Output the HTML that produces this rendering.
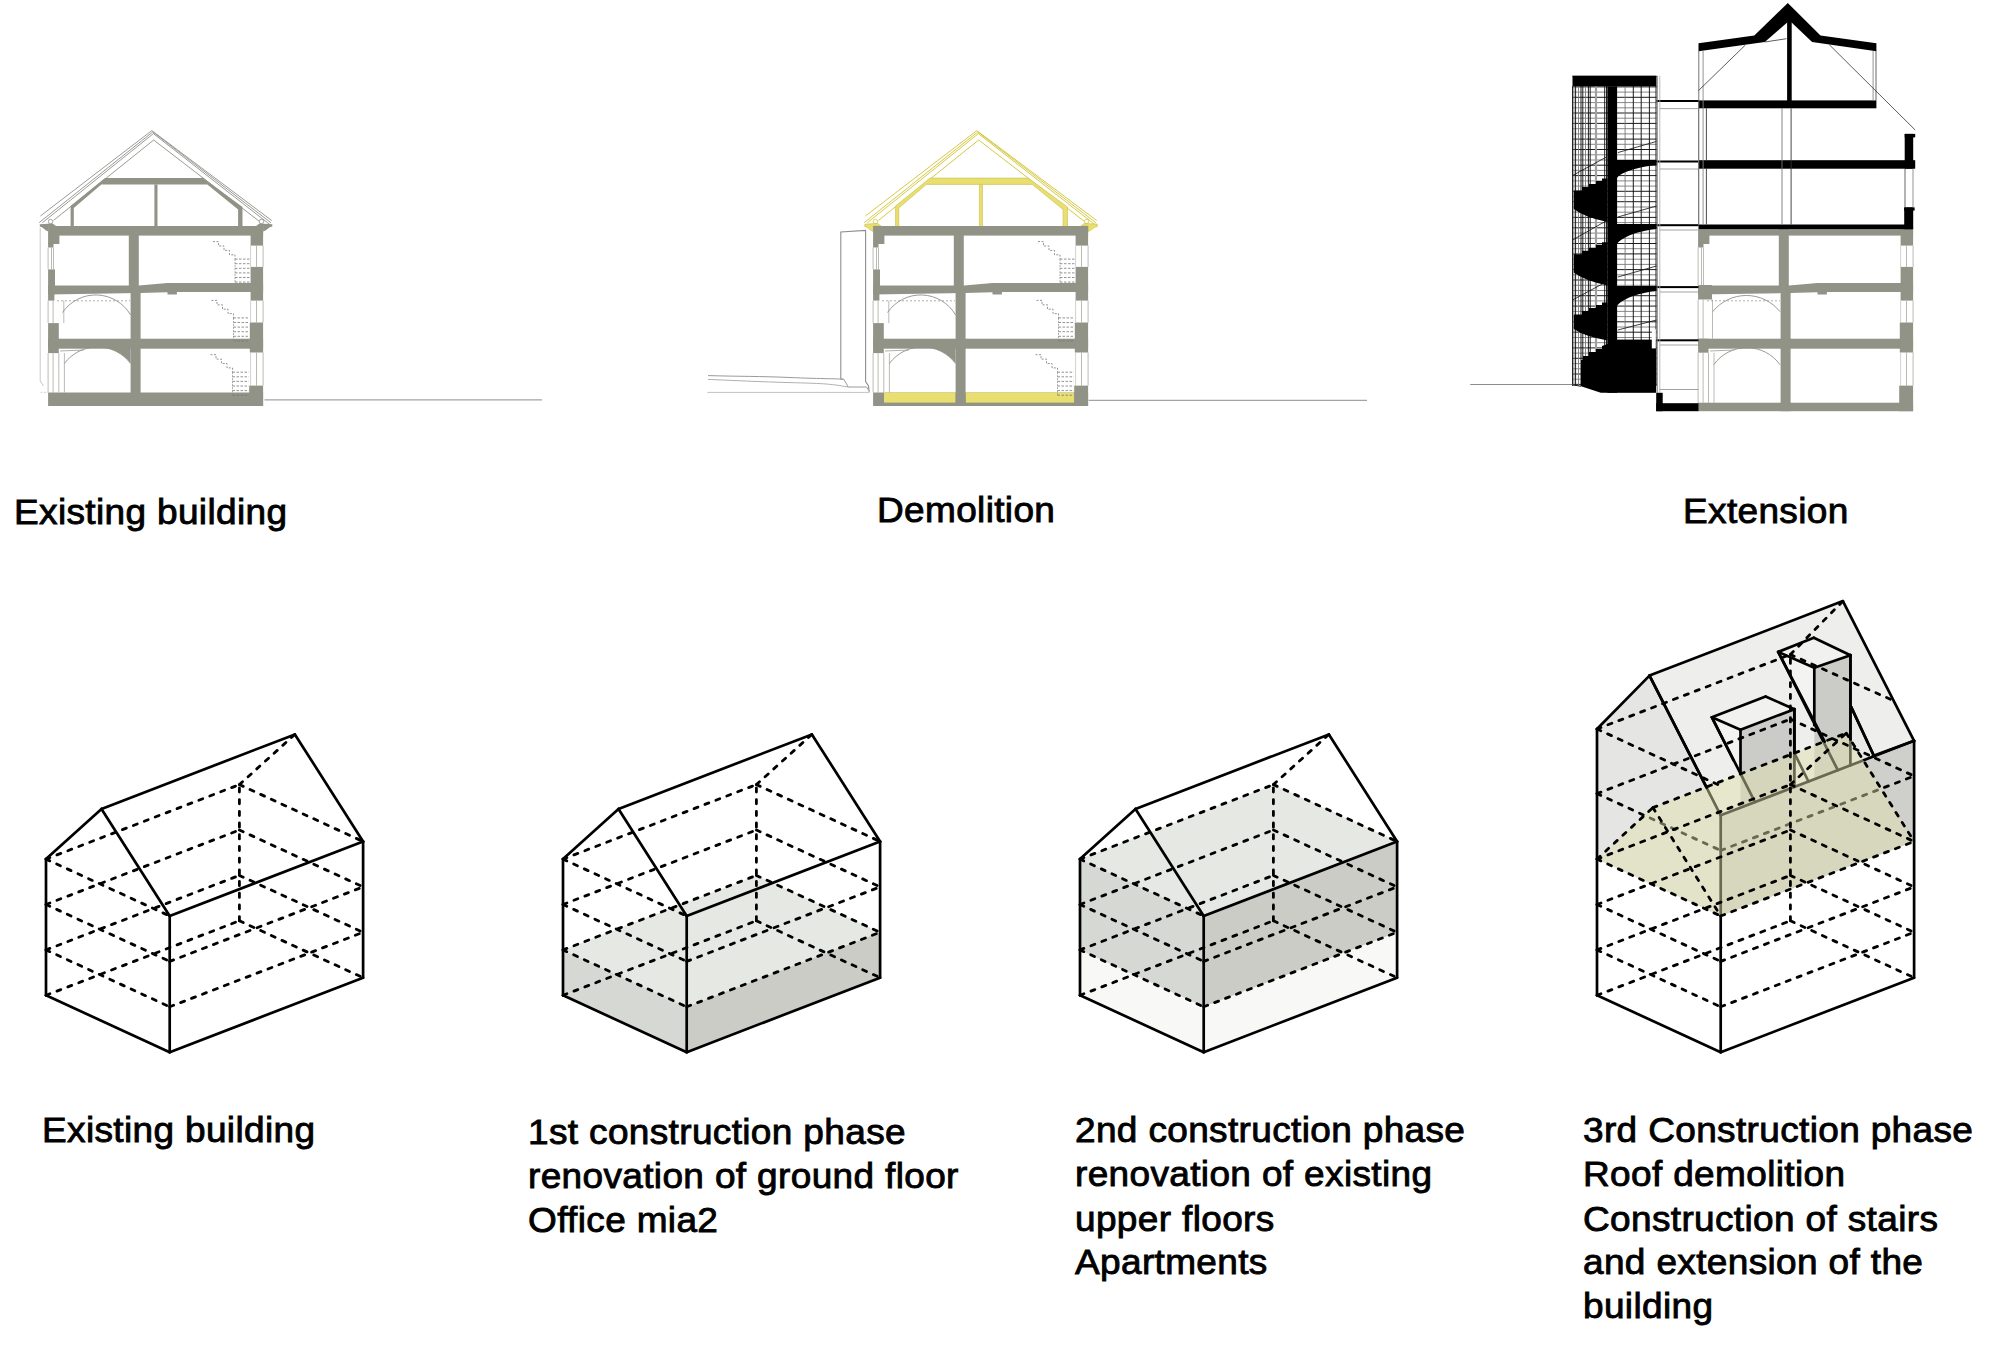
<!DOCTYPE html>
<html><head><meta charset="utf-8">
<style>
html,body{margin:0;padding:0;background:#fff;}
body{width:2000px;height:1371px;overflow:hidden;position:relative;}
svg{position:absolute;left:0;top:0;}
.s{stroke:#000;stroke-width:2.7;fill:none;stroke-linecap:round;stroke-linejoin:round;}
.d{stroke:#000;stroke-width:2.8;fill:none;stroke-dasharray:4.2 7.5;stroke-linecap:round;}
.t{position:absolute;font-family:"Liberation Sans",sans-serif;font-size:37px;color:#000;white-space:nowrap;-webkit-text-stroke:0.9px #000;line-height:46.25px;letter-spacing:0.35px;transform:scaleY(0.95);transform-origin:0 0;}
</style></head><body>
<svg width="2000" height="1371" viewBox="0 0 2000 1371">
<g transform="translate(0.00,0)">
<polyline points="40.4,216.0 151.8,130.6 271.8,220.6" fill="none" stroke="#8e8e8a" stroke-width="0.90"/>
<polyline points="39.2,222.6 152.8,131.9 271.0,222.8" fill="none" stroke="#8e8e8a" stroke-width="0.90"/>
<polyline points="42.4,222.7 153.4,133.6 269.9,224.6" fill="none" stroke="#8e8e8a" stroke-width="0.90"/>
<polyline points="53.5,220.4 153.7,140.0 259.3,221.3" fill="none" stroke="#8e8e8a" stroke-width="0.90"/>
<polygon points="105.0,178.1 203.1,178.1 242.5,207.0 242.5,226.5 238.1,226.5 238.1,209.5 207.3,184.4 101.3,184.4 73.8,208.0 73.8,226.5 70.6,226.5 70.6,206.0" fill="#929387"/>
<polygon points="154.4,184.4 157.5,184.4 157.5,226.5 154.4,226.5" fill="#929387"/>
<polygon points="39.8,224.2 52.5,223.4 56.0,226.0 48.3,226.0 48.3,231.5 46.0,230.5 42.0,227.2 39.8,226.6" fill="#929387"/>
<polygon points="272.3,224.2 259.5,223.4 256.0,226.0 263.1,226.0 263.1,231.5 265.5,230.5 269.8,227.2 272.3,226.6" fill="#929387"/>
<circle cx="50.5" cy="221.5" r="2.2" fill="none" stroke="#8e8e8a" stroke-width="0.8"/>
<circle cx="261.5" cy="221.5" r="2.2" fill="none" stroke="#8e8e8a" stroke-width="0.8"/>
<rect x="48.10" y="226.00" width="215.00" height="9.60" fill="#929387"/>
<rect x="48.10" y="338.70" width="215.00" height="10.00" fill="#929387"/>
<polygon points="48.1,285.6 139.0,285.6 167.5,283.1 263.1,283.1 263.1,291.9 176.9,291.9 176.9,294.4 167.5,294.4 167.5,292.2 140.0,293.0 48.1,294.4" fill="#929387"/>
<rect x="48.10" y="392.50" width="215.00" height="13.50" fill="#929387"/>
<rect x="128.80" y="226.00" width="10.00" height="64.00" fill="#929387"/>
<rect x="130.60" y="288.00" width="10.00" height="118.00" fill="#929387"/>
<rect x="48.10" y="235.00" width="11.30" height="9.00" fill="#929387"/>
<rect x="48.10" y="243.00" width="5.40" height="4.50" fill="#929387"/>
<rect x="48.10" y="269.40" width="6.90" height="20.60" fill="#929387"/>
<rect x="48.10" y="290.00" width="6.30" height="10.60" fill="#929387"/>
<rect x="48.10" y="323.10" width="10.70" height="18.90" fill="#929387"/>
<rect x="48.10" y="342.00" width="10.70" height="11.10" fill="#929387"/>
<polyline points="48.1,247.5 48.1,269.4" fill="none" stroke="#a9aaa2" stroke-width="0.80"/>
<polyline points="51.5,247.5 51.5,269.4" fill="none" stroke="#a9aaa2" stroke-width="0.80"/>
<polyline points="53.5,247.5 53.5,269.4" fill="none" stroke="#a9aaa2" stroke-width="0.80"/>
<polyline points="48.1,300.6 48.1,323.1" fill="none" stroke="#a9aaa2" stroke-width="0.80"/>
<polyline points="53.1,300.6 53.1,323.1" fill="none" stroke="#a9aaa2" stroke-width="0.80"/>
<polyline points="63.8,300.6 63.8,323.1" fill="none" stroke="#a9aaa2" stroke-width="0.80"/>
<polyline points="48.1,353.1 48.1,392.5" fill="none" stroke="#a9aaa2" stroke-width="0.80"/>
<polyline points="53.1,353.1 53.1,392.5" fill="none" stroke="#a9aaa2" stroke-width="0.80"/>
<polyline points="58.8,353.1 58.8,392.5" fill="none" stroke="#a9aaa2" stroke-width="0.80"/>
<polyline points="64.4,353.1 64.4,392.5" fill="none" stroke="#a9aaa2" stroke-width="0.80"/>
<rect x="250.60" y="226.00" width="12.50" height="19.60" fill="#929387"/>
<rect x="250.60" y="266.90" width="12.50" height="33.70" fill="#929387"/>
<rect x="249.80" y="322.50" width="13.30" height="30.00" fill="#929387"/>
<rect x="249.20" y="385.60" width="13.90" height="20.40" fill="#929387"/>
<polyline points="256.5,245.6 256.5,266.9" fill="none" stroke="#a9aaa2" stroke-width="0.80"/>
<polyline points="250.6,245.6 250.6,266.9" fill="none" stroke="#c4c5be" stroke-width="0.80"/>
<polyline points="263.1,245.6 263.1,266.9" fill="none" stroke="#a9aaa2" stroke-width="0.80"/>
<polyline points="256.5,300.6 256.5,322.5" fill="none" stroke="#a9aaa2" stroke-width="0.80"/>
<polyline points="250.6,300.6 250.6,322.5" fill="none" stroke="#c4c5be" stroke-width="0.80"/>
<polyline points="263.1,300.6 263.1,322.5" fill="none" stroke="#a9aaa2" stroke-width="0.80"/>
<polyline points="256.5,352.5 256.5,385.6" fill="none" stroke="#a9aaa2" stroke-width="0.80"/>
<polyline points="250.6,352.5 250.6,385.6" fill="none" stroke="#c4c5be" stroke-width="0.80"/>
<polyline points="263.1,352.5 263.1,385.6" fill="none" stroke="#a9aaa2" stroke-width="0.80"/>
<path d="M62.5 312.5 A40.3 40.3 0 0 1 130.6 315.0" fill="none" stroke="#8e8e8a" stroke-width="0.9"/>
<path d="M64.4 363.4 A41.5 41.5 0 0 1 130.6 363.4" fill="none" stroke="#8e8e8a" stroke-width="0.9"/>
<path d="M97.5 348 L130.6 348 L130.6 363.4 A41.5 41.5 0 0 0 97.5 346.9 Z" fill="#929387"/>
<polyline points="57.0,300.8 130.0,300.8" fill="none" stroke="#9a9b93" stroke-width="0.80" stroke-dasharray="2 2"/>
<polyline points="60.0,351.0 84.0,350.0" fill="none" stroke="#9a9b93" stroke-width="0.80"/>
<polyline points="213.0,241.6 218.5,241.6 218.5,246.0 224.0,246.0 224.0,250.4 229.5,250.4 229.5,254.8 235.0,254.8 235.0,259.2" fill="none" stroke="#777" stroke-width="0.80" stroke-dasharray="2 1.5"/>
<polyline points="235.0,259.1 250.0,259.1" fill="none" stroke="#777" stroke-width="0.80" stroke-dasharray="2.5 1.5"/>
<polyline points="235.0,263.7 250.0,263.7" fill="none" stroke="#777" stroke-width="0.80" stroke-dasharray="2.5 1.5"/>
<polyline points="235.0,268.3 250.0,268.3" fill="none" stroke="#777" stroke-width="0.80" stroke-dasharray="2.5 1.5"/>
<polyline points="235.0,272.9 250.0,272.9" fill="none" stroke="#777" stroke-width="0.80" stroke-dasharray="2.5 1.5"/>
<polyline points="235.0,277.5 250.0,277.5" fill="none" stroke="#777" stroke-width="0.80" stroke-dasharray="2.5 1.5"/>
<polyline points="235.0,282.1 250.0,282.1" fill="none" stroke="#777" stroke-width="0.80" stroke-dasharray="2.5 1.5"/>
<polyline points="235.0,259.1 235.0,283.1" fill="none" stroke="#888" stroke-width="0.70" stroke-dasharray="2 1"/>
<polyline points="211.5,300.4 217.0,300.4 217.0,304.8 222.5,304.8 222.5,309.2 228.0,309.2 228.0,313.6 233.5,313.6 233.5,318.0" fill="none" stroke="#777" stroke-width="0.80" stroke-dasharray="2 1.5"/>
<polyline points="233.5,317.9 249.2,317.9" fill="none" stroke="#777" stroke-width="0.80" stroke-dasharray="2.5 1.5"/>
<polyline points="233.5,322.5 249.2,322.5" fill="none" stroke="#777" stroke-width="0.80" stroke-dasharray="2.5 1.5"/>
<polyline points="233.5,327.1 249.2,327.1" fill="none" stroke="#777" stroke-width="0.80" stroke-dasharray="2.5 1.5"/>
<polyline points="233.5,331.7 249.2,331.7" fill="none" stroke="#777" stroke-width="0.80" stroke-dasharray="2.5 1.5"/>
<polyline points="233.5,336.3 249.2,336.3" fill="none" stroke="#777" stroke-width="0.80" stroke-dasharray="2.5 1.5"/>
<polyline points="233.5,340.9 249.2,340.9" fill="none" stroke="#777" stroke-width="0.80" stroke-dasharray="2.5 1.5"/>
<polyline points="233.5,317.9 233.5,341.9" fill="none" stroke="#888" stroke-width="0.70" stroke-dasharray="2 1"/>
<polyline points="210.5,354.7 216.0,354.7 216.0,359.1 221.5,359.1 221.5,363.5 227.0,363.5 227.0,367.9 232.5,367.9 232.5,372.3" fill="none" stroke="#777" stroke-width="0.80" stroke-dasharray="2 1.5"/>
<polyline points="232.5,372.2 248.8,372.2" fill="none" stroke="#777" stroke-width="0.80" stroke-dasharray="2.5 1.5"/>
<polyline points="232.5,376.8 248.8,376.8" fill="none" stroke="#777" stroke-width="0.80" stroke-dasharray="2.5 1.5"/>
<polyline points="232.5,381.4 248.8,381.4" fill="none" stroke="#777" stroke-width="0.80" stroke-dasharray="2.5 1.5"/>
<polyline points="232.5,386.0 248.8,386.0" fill="none" stroke="#777" stroke-width="0.80" stroke-dasharray="2.5 1.5"/>
<polyline points="232.5,390.6 248.8,390.6" fill="none" stroke="#777" stroke-width="0.80" stroke-dasharray="2.5 1.5"/>
<polyline points="232.5,395.2 248.8,395.2" fill="none" stroke="#777" stroke-width="0.80" stroke-dasharray="2.5 1.5"/>
<polyline points="232.5,372.2 232.5,396.2" fill="none" stroke="#888" stroke-width="0.70" stroke-dasharray="2 1"/>
<polyline points="40.2,228.0 40.2,381.0 43.5,386.0" fill="none" stroke="#c8c8c4" stroke-width="1.00"/>
<polyline points="40.5,392.3 48.0,392.3" fill="none" stroke="#c8c8c4" stroke-width="0.80" stroke-dasharray="2 1.5"/>
</g>
<g transform="translate(825.00,0)">
<polyline points="40.4,216.0 151.8,130.6 271.8,220.6" fill="none" stroke="#d6c943" stroke-width="1.00"/>
<polyline points="39.2,222.6 152.8,131.9 271.0,222.8" fill="none" stroke="#d6c943" stroke-width="1.00"/>
<polyline points="42.4,222.7 153.4,133.6 269.9,224.6" fill="none" stroke="#d6c943" stroke-width="1.00"/>
<polyline points="53.5,220.4 153.7,140.0 259.3,221.3" fill="none" stroke="#d6c943" stroke-width="1.00"/>
<polygon points="105.0,178.1 203.1,178.1 242.5,207.0 242.5,226.5 238.1,226.5 238.1,209.5 207.3,184.4 101.3,184.4 73.8,208.0 73.8,226.5 70.6,226.5 70.6,206.0" fill="#e8df70" stroke="#cfc455" stroke-width="0.7"/>
<polygon points="154.4,184.4 157.5,184.4 157.5,226.5 154.4,226.5" fill="#e8df70" stroke="#cfc455" stroke-width="0.7"/>
<polygon points="39.8,224.2 52.5,223.4 56.0,226.0 48.3,226.0 48.3,231.5 46.0,230.5 42.0,227.2 39.8,226.6" fill="#e8df70" stroke="#cfc455" stroke-width="0.7"/>
<polygon points="272.3,224.2 259.5,223.4 256.0,226.0 263.1,226.0 263.1,231.5 265.5,230.5 269.8,227.2 272.3,226.6" fill="#e8df70" stroke="#cfc455" stroke-width="0.7"/>
<circle cx="50.5" cy="221.5" r="2.2" fill="none" stroke="#d6c943" stroke-width="0.8"/>
<circle cx="261.5" cy="221.5" r="2.2" fill="none" stroke="#d6c943" stroke-width="0.8"/>
<rect x="48.10" y="226.00" width="215.00" height="9.60" fill="#929387"/>
<rect x="48.10" y="338.70" width="215.00" height="10.00" fill="#929387"/>
<polygon points="48.1,285.6 139.0,285.6 167.5,283.1 263.1,283.1 263.1,291.9 176.9,291.9 176.9,294.4 167.5,294.4 167.5,292.2 140.0,293.0 48.1,294.4" fill="#929387"/>
<rect x="48.10" y="392.50" width="215.00" height="13.50" fill="#929387"/>
<rect x="59.00" y="392.50" width="71.60" height="10.10" fill="#e8df70"/>
<rect x="140.60" y="392.50" width="108.60" height="10.10" fill="#e8df70"/>
<rect x="128.80" y="226.00" width="10.00" height="64.00" fill="#929387"/>
<rect x="130.60" y="288.00" width="10.00" height="118.00" fill="#929387"/>
<rect x="48.10" y="235.00" width="11.30" height="9.00" fill="#929387"/>
<rect x="48.10" y="243.00" width="5.40" height="4.50" fill="#929387"/>
<rect x="48.10" y="269.40" width="6.90" height="20.60" fill="#929387"/>
<rect x="48.10" y="290.00" width="6.30" height="10.60" fill="#929387"/>
<rect x="48.10" y="323.10" width="10.70" height="18.90" fill="#929387"/>
<rect x="48.10" y="342.00" width="10.70" height="11.10" fill="#929387"/>
<polyline points="48.1,247.5 48.1,269.4" fill="none" stroke="#a9aaa2" stroke-width="0.80"/>
<polyline points="51.5,247.5 51.5,269.4" fill="none" stroke="#a9aaa2" stroke-width="0.80"/>
<polyline points="53.5,247.5 53.5,269.4" fill="none" stroke="#a9aaa2" stroke-width="0.80"/>
<polyline points="48.1,300.6 48.1,323.1" fill="none" stroke="#a9aaa2" stroke-width="0.80"/>
<polyline points="53.1,300.6 53.1,323.1" fill="none" stroke="#a9aaa2" stroke-width="0.80"/>
<polyline points="63.8,300.6 63.8,323.1" fill="none" stroke="#a9aaa2" stroke-width="0.80"/>
<polyline points="48.1,353.1 48.1,392.5" fill="none" stroke="#a9aaa2" stroke-width="0.80"/>
<polyline points="53.1,353.1 53.1,392.5" fill="none" stroke="#a9aaa2" stroke-width="0.80"/>
<polyline points="58.8,353.1 58.8,392.5" fill="none" stroke="#a9aaa2" stroke-width="0.80"/>
<polyline points="64.4,353.1 64.4,392.5" fill="none" stroke="#a9aaa2" stroke-width="0.80"/>
<rect x="250.60" y="226.00" width="12.50" height="19.60" fill="#929387"/>
<rect x="250.60" y="266.90" width="12.50" height="33.70" fill="#929387"/>
<rect x="249.80" y="322.50" width="13.30" height="30.00" fill="#929387"/>
<rect x="249.20" y="385.60" width="13.90" height="20.40" fill="#929387"/>
<polyline points="256.5,245.6 256.5,266.9" fill="none" stroke="#a9aaa2" stroke-width="0.80"/>
<polyline points="250.6,245.6 250.6,266.9" fill="none" stroke="#c4c5be" stroke-width="0.80"/>
<polyline points="263.1,245.6 263.1,266.9" fill="none" stroke="#a9aaa2" stroke-width="0.80"/>
<polyline points="256.5,300.6 256.5,322.5" fill="none" stroke="#a9aaa2" stroke-width="0.80"/>
<polyline points="250.6,300.6 250.6,322.5" fill="none" stroke="#c4c5be" stroke-width="0.80"/>
<polyline points="263.1,300.6 263.1,322.5" fill="none" stroke="#a9aaa2" stroke-width="0.80"/>
<polyline points="256.5,352.5 256.5,385.6" fill="none" stroke="#a9aaa2" stroke-width="0.80"/>
<polyline points="250.6,352.5 250.6,385.6" fill="none" stroke="#c4c5be" stroke-width="0.80"/>
<polyline points="263.1,352.5 263.1,385.6" fill="none" stroke="#a9aaa2" stroke-width="0.80"/>
<path d="M62.5 312.5 A40.3 40.3 0 0 1 130.6 315.0" fill="none" stroke="#8e8e8a" stroke-width="0.9"/>
<path d="M64.4 363.4 A41.5 41.5 0 0 1 130.6 363.4" fill="none" stroke="#8e8e8a" stroke-width="0.9"/>
<path d="M97.5 348 L130.6 348 L130.6 363.4 A41.5 41.5 0 0 0 97.5 346.9 Z" fill="#929387"/>
<polyline points="57.0,300.8 130.0,300.8" fill="none" stroke="#9a9b93" stroke-width="0.80" stroke-dasharray="2 2"/>
<polyline points="60.0,351.0 84.0,350.0" fill="none" stroke="#9a9b93" stroke-width="0.80"/>
<polyline points="213.0,241.6 218.5,241.6 218.5,246.0 224.0,246.0 224.0,250.4 229.5,250.4 229.5,254.8 235.0,254.8 235.0,259.2" fill="none" stroke="#777" stroke-width="0.80" stroke-dasharray="2 1.5"/>
<polyline points="235.0,259.1 250.0,259.1" fill="none" stroke="#777" stroke-width="0.80" stroke-dasharray="2.5 1.5"/>
<polyline points="235.0,263.7 250.0,263.7" fill="none" stroke="#777" stroke-width="0.80" stroke-dasharray="2.5 1.5"/>
<polyline points="235.0,268.3 250.0,268.3" fill="none" stroke="#777" stroke-width="0.80" stroke-dasharray="2.5 1.5"/>
<polyline points="235.0,272.9 250.0,272.9" fill="none" stroke="#777" stroke-width="0.80" stroke-dasharray="2.5 1.5"/>
<polyline points="235.0,277.5 250.0,277.5" fill="none" stroke="#777" stroke-width="0.80" stroke-dasharray="2.5 1.5"/>
<polyline points="235.0,282.1 250.0,282.1" fill="none" stroke="#777" stroke-width="0.80" stroke-dasharray="2.5 1.5"/>
<polyline points="235.0,259.1 235.0,283.1" fill="none" stroke="#888" stroke-width="0.70" stroke-dasharray="2 1"/>
<polyline points="211.5,300.4 217.0,300.4 217.0,304.8 222.5,304.8 222.5,309.2 228.0,309.2 228.0,313.6 233.5,313.6 233.5,318.0" fill="none" stroke="#777" stroke-width="0.80" stroke-dasharray="2 1.5"/>
<polyline points="233.5,317.9 249.2,317.9" fill="none" stroke="#777" stroke-width="0.80" stroke-dasharray="2.5 1.5"/>
<polyline points="233.5,322.5 249.2,322.5" fill="none" stroke="#777" stroke-width="0.80" stroke-dasharray="2.5 1.5"/>
<polyline points="233.5,327.1 249.2,327.1" fill="none" stroke="#777" stroke-width="0.80" stroke-dasharray="2.5 1.5"/>
<polyline points="233.5,331.7 249.2,331.7" fill="none" stroke="#777" stroke-width="0.80" stroke-dasharray="2.5 1.5"/>
<polyline points="233.5,336.3 249.2,336.3" fill="none" stroke="#777" stroke-width="0.80" stroke-dasharray="2.5 1.5"/>
<polyline points="233.5,340.9 249.2,340.9" fill="none" stroke="#777" stroke-width="0.80" stroke-dasharray="2.5 1.5"/>
<polyline points="233.5,317.9 233.5,341.9" fill="none" stroke="#888" stroke-width="0.70" stroke-dasharray="2 1"/>
<polyline points="210.5,354.7 216.0,354.7 216.0,359.1 221.5,359.1 221.5,363.5 227.0,363.5 227.0,367.9 232.5,367.9 232.5,372.3" fill="none" stroke="#777" stroke-width="0.80" stroke-dasharray="2 1.5"/>
<polyline points="232.5,372.2 248.8,372.2" fill="none" stroke="#777" stroke-width="0.80" stroke-dasharray="2.5 1.5"/>
<polyline points="232.5,376.8 248.8,376.8" fill="none" stroke="#777" stroke-width="0.80" stroke-dasharray="2.5 1.5"/>
<polyline points="232.5,381.4 248.8,381.4" fill="none" stroke="#777" stroke-width="0.80" stroke-dasharray="2.5 1.5"/>
<polyline points="232.5,386.0 248.8,386.0" fill="none" stroke="#777" stroke-width="0.80" stroke-dasharray="2.5 1.5"/>
<polyline points="232.5,390.6 248.8,390.6" fill="none" stroke="#777" stroke-width="0.80" stroke-dasharray="2.5 1.5"/>
<polyline points="232.5,395.2 248.8,395.2" fill="none" stroke="#777" stroke-width="0.80" stroke-dasharray="2.5 1.5"/>
<polyline points="232.5,372.2 232.5,396.2" fill="none" stroke="#888" stroke-width="0.70" stroke-dasharray="2 1"/>
</g>
<g transform="translate(1650.00,0)">
<rect x="48.10" y="229.20" width="215.00" height="6.40" fill="#929387"/>
<rect x="48.10" y="338.70" width="215.00" height="10.00" fill="#929387"/>
<polygon points="48.1,285.6 139.0,285.6 167.5,283.1 263.1,283.1 263.1,291.9 176.9,291.9 176.9,294.4 167.5,294.4 167.5,292.2 140.0,293.0 48.1,294.4" fill="#929387"/>
<rect x="48.10" y="402.70" width="215.00" height="8.50" fill="#929387"/>
<rect x="128.80" y="226.00" width="10.00" height="64.00" fill="#929387"/>
<rect x="130.60" y="288.00" width="10.00" height="123.20" fill="#929387"/>
<rect x="48.10" y="235.00" width="11.30" height="9.00" fill="#929387"/>
<rect x="48.10" y="243.00" width="5.40" height="4.50" fill="#929387"/>
<rect x="48.10" y="285.00" width="13.90" height="14.50" fill="#929387"/>
<rect x="48.10" y="338.70" width="10.40" height="14.00" fill="#929387"/>
<polyline points="48.1,247.5 48.1,285.0" fill="none" stroke="#a9aaa2" stroke-width="0.80"/>
<polyline points="51.5,247.5 51.5,285.0" fill="none" stroke="#a9aaa2" stroke-width="0.80"/>
<polyline points="53.5,247.5 53.5,285.0" fill="none" stroke="#a9aaa2" stroke-width="0.80"/>
<polyline points="48.1,299.5 48.1,338.7" fill="none" stroke="#a9aaa2" stroke-width="0.80"/>
<polyline points="53.1,299.5 53.1,338.7" fill="none" stroke="#a9aaa2" stroke-width="0.80"/>
<polyline points="62.5,299.5 62.5,338.7" fill="none" stroke="#a9aaa2" stroke-width="0.80"/>
<polyline points="48.1,352.7 48.1,402.7" fill="none" stroke="#a9aaa2" stroke-width="0.80"/>
<polyline points="53.1,352.7 53.1,402.7" fill="none" stroke="#a9aaa2" stroke-width="0.80"/>
<polyline points="58.5,352.7 58.5,402.7" fill="none" stroke="#a9aaa2" stroke-width="0.80"/>
<polyline points="64.0,352.7 64.0,402.7" fill="none" stroke="#a9aaa2" stroke-width="0.80"/>
<rect x="250.60" y="226.00" width="12.50" height="19.60" fill="#929387"/>
<rect x="250.60" y="266.90" width="12.50" height="33.70" fill="#929387"/>
<rect x="249.80" y="322.50" width="13.30" height="30.00" fill="#929387"/>
<rect x="249.20" y="385.60" width="13.90" height="25.60" fill="#929387"/>
<polyline points="256.5,245.6 256.5,266.9" fill="none" stroke="#a9aaa2" stroke-width="0.80"/>
<polyline points="250.6,245.6 250.6,266.9" fill="none" stroke="#c4c5be" stroke-width="0.80"/>
<polyline points="263.1,245.6 263.1,266.9" fill="none" stroke="#a9aaa2" stroke-width="0.80"/>
<polyline points="256.5,300.6 256.5,322.5" fill="none" stroke="#a9aaa2" stroke-width="0.80"/>
<polyline points="250.6,300.6 250.6,322.5" fill="none" stroke="#c4c5be" stroke-width="0.80"/>
<polyline points="263.1,300.6 263.1,322.5" fill="none" stroke="#a9aaa2" stroke-width="0.80"/>
<polyline points="256.5,352.5 256.5,385.6" fill="none" stroke="#a9aaa2" stroke-width="0.80"/>
<polyline points="250.6,352.5 250.6,385.6" fill="none" stroke="#c4c5be" stroke-width="0.80"/>
<polyline points="263.1,352.5 263.1,385.6" fill="none" stroke="#a9aaa2" stroke-width="0.80"/>
<path d="M62.7 311.7 A43.0 43.0 0 0 1 130.0 311.7" fill="none" stroke="#8e8e8a" stroke-width="0.9"/>
<path d="M63.7 364.7 A40.8 40.8 0 0 1 130.0 364.7" fill="none" stroke="#8e8e8a" stroke-width="0.9"/>
<polyline points="57.0,300.8 130.0,300.8" fill="none" stroke="#9a9b93" stroke-width="0.80" stroke-dasharray="2 2"/>
<polyline points="60.0,351.0 84.0,350.0" fill="none" stroke="#9a9b93" stroke-width="0.80"/>
</g>
<g><polygon points="1698.5,43.3 1754.3,35.4 1787.8,3.0 1820.5,35.4 1876.4,43.3 1876.4,51.2 1812.1,42.0 1789.5,20.5 1764.8,42.0 1698.5,51.2" fill="#000"/>
<rect x="1787.10" y="20.00" width="4.60" height="81.00" fill="#000"/>
<rect x="1698.50" y="100.40" width="177.90" height="7.90" fill="#000"/>
<rect x="1698.50" y="160.20" width="216.70" height="8.50" fill="#000"/>
<rect x="1904.70" y="133.90" width="8.50" height="34.80" fill="#000"/>
<rect x="1904.70" y="133.90" width="10.50" height="3.50" fill="#000"/>
<rect x="1698.50" y="224.50" width="214.30" height="4.70" fill="#000"/>
<rect x="1904.20" y="207.40" width="9.00" height="21.80" fill="#000"/>
<rect x="1904.20" y="207.40" width="10.40" height="3.20" fill="#000"/>
<polyline points="1698.8,51.0 1698.8,224.5" fill="none" stroke="#666" stroke-width="0.90"/>
<polyline points="1703.1,51.0 1703.1,224.5" fill="none" stroke="#888" stroke-width="0.90"/>
<polyline points="1706.4,108.3 1706.4,160.2" fill="none" stroke="#333" stroke-width="0.90"/>
<polyline points="1706.4,168.7 1706.4,224.5" fill="none" stroke="#333" stroke-width="0.90"/>
<polyline points="1782.0,108.3 1782.0,224.5" fill="none" stroke="#777" stroke-width="0.90"/>
<polyline points="1791.1,108.3 1791.1,224.5" fill="none" stroke="#333" stroke-width="0.90"/>
<polyline points="1873.1,51.0 1873.1,100.4" fill="none" stroke="#888" stroke-width="0.90"/>
<polyline points="1876.0,51.0 1876.0,100.4" fill="none" stroke="#555" stroke-width="0.90"/>
<polyline points="1905.0,168.7 1905.0,207.4" fill="none" stroke="#555" stroke-width="0.90"/>
<polyline points="1913.0,168.7 1913.0,207.4" fill="none" stroke="#888" stroke-width="0.90"/>
<polyline points="1698.5,90.6 1745.1,45.3" fill="none" stroke="#333" stroke-width="0.80"/>
<polyline points="1764.8,42.0 1786.5,38.7" fill="none" stroke="#333" stroke-width="0.80"/>
<polyline points="1829.2,44.6 1915.2,130.0" fill="none" stroke="#333" stroke-width="0.80"/>
<rect x="1656.50" y="100.00" width="42.00" height="2.00" fill="#000"/>
<polyline points="1659.8,108.6 1698.5,108.6" fill="none" stroke="#999" stroke-width="0.90"/>
<rect x="1656.50" y="160.50" width="42.00" height="2.00" fill="#000"/>
<polyline points="1659.8,169.0 1698.5,169.0" fill="none" stroke="#999" stroke-width="0.90"/>
<rect x="1656.50" y="224.20" width="42.00" height="2.00" fill="#000"/>
<polyline points="1659.8,230.0 1698.5,230.0" fill="none" stroke="#999" stroke-width="0.90"/>
<rect x="1656.50" y="286.10" width="42.00" height="2.00" fill="#000"/>
<polyline points="1659.8,292.0 1698.5,292.0" fill="none" stroke="#999" stroke-width="0.90"/>
<rect x="1656.50" y="339.30" width="42.00" height="2.00" fill="#000"/>
<polyline points="1659.8,345.0 1698.5,345.0" fill="none" stroke="#999" stroke-width="0.90"/>
<polyline points="1657.4,75.8 1657.4,392.8" fill="none" stroke="#777" stroke-width="0.80"/>
<polyline points="1659.8,75.8 1659.8,392.8" fill="none" stroke="#aaa" stroke-width="0.80"/>
<polyline points="1698.5,108.0 1698.5,224.0" fill="none" stroke="#777" stroke-width="0.90"/>
<polyline points="1659.8,389.5 1698.5,389.5" fill="none" stroke="#999" stroke-width="0.90"/>
<rect x="1656.20" y="392.80" width="6.50" height="18.40" fill="#000"/>
<rect x="1656.20" y="403.20" width="42.30" height="8.00" fill="#000"/>
<polyline points="1572.5,86.9 1656.5,86.9" fill="none" stroke="#111" stroke-width="0.95"/>
<polyline points="1572.5,92.1 1656.5,92.1" fill="none" stroke="#6a6a6a" stroke-width="0.80"/>
<polyline points="1572.5,97.3 1656.5,97.3" fill="none" stroke="#111" stroke-width="0.95"/>
<polyline points="1572.5,102.6 1656.5,102.6" fill="none" stroke="#6a6a6a" stroke-width="0.80"/>
<polyline points="1572.5,107.8 1656.5,107.8" fill="none" stroke="#6a6a6a" stroke-width="0.80"/>
<polyline points="1572.5,113.0 1656.5,113.0" fill="none" stroke="#111" stroke-width="0.95"/>
<polyline points="1572.5,118.2 1656.5,118.2" fill="none" stroke="#6a6a6a" stroke-width="0.80"/>
<polyline points="1572.5,123.4 1656.5,123.4" fill="none" stroke="#111" stroke-width="0.95"/>
<polyline points="1572.5,128.7 1656.5,128.7" fill="none" stroke="#6a6a6a" stroke-width="0.80"/>
<polyline points="1572.5,133.9 1656.5,133.9" fill="none" stroke="#6a6a6a" stroke-width="0.80"/>
<polyline points="1572.5,139.1 1656.5,139.1" fill="none" stroke="#111" stroke-width="0.95"/>
<polyline points="1572.5,144.3 1656.5,144.3" fill="none" stroke="#6a6a6a" stroke-width="0.80"/>
<polyline points="1572.5,149.5 1656.5,149.5" fill="none" stroke="#111" stroke-width="0.95"/>
<polyline points="1572.5,154.8 1656.5,154.8" fill="none" stroke="#6a6a6a" stroke-width="0.80"/>
<polyline points="1572.5,160.0 1656.5,160.0" fill="none" stroke="#6a6a6a" stroke-width="0.80"/>
<polyline points="1572.5,165.2 1656.5,165.2" fill="none" stroke="#111" stroke-width="0.95"/>
<polyline points="1572.5,170.4 1656.5,170.4" fill="none" stroke="#6a6a6a" stroke-width="0.80"/>
<polyline points="1572.5,175.6 1656.5,175.6" fill="none" stroke="#111" stroke-width="0.95"/>
<polyline points="1572.5,180.9 1656.5,180.9" fill="none" stroke="#6a6a6a" stroke-width="0.80"/>
<polyline points="1572.5,186.1 1656.5,186.1" fill="none" stroke="#6a6a6a" stroke-width="0.80"/>
<polyline points="1572.5,191.3 1656.5,191.3" fill="none" stroke="#111" stroke-width="0.95"/>
<polyline points="1572.5,196.5 1656.5,196.5" fill="none" stroke="#6a6a6a" stroke-width="0.80"/>
<polyline points="1572.5,201.7 1656.5,201.7" fill="none" stroke="#111" stroke-width="0.95"/>
<polyline points="1572.5,207.0 1656.5,207.0" fill="none" stroke="#6a6a6a" stroke-width="0.80"/>
<polyline points="1572.5,212.2 1656.5,212.2" fill="none" stroke="#6a6a6a" stroke-width="0.80"/>
<polyline points="1572.5,217.4 1656.5,217.4" fill="none" stroke="#111" stroke-width="0.95"/>
<polyline points="1572.5,222.6 1656.5,222.6" fill="none" stroke="#6a6a6a" stroke-width="0.80"/>
<polyline points="1572.5,227.8 1656.5,227.8" fill="none" stroke="#111" stroke-width="0.95"/>
<polyline points="1572.5,233.1 1656.5,233.1" fill="none" stroke="#6a6a6a" stroke-width="0.80"/>
<polyline points="1572.5,238.3 1656.5,238.3" fill="none" stroke="#6a6a6a" stroke-width="0.80"/>
<polyline points="1572.5,243.5 1656.5,243.5" fill="none" stroke="#111" stroke-width="0.95"/>
<polyline points="1572.5,248.7 1656.5,248.7" fill="none" stroke="#6a6a6a" stroke-width="0.80"/>
<polyline points="1572.5,253.9 1656.5,253.9" fill="none" stroke="#111" stroke-width="0.95"/>
<polyline points="1572.5,259.2 1656.5,259.2" fill="none" stroke="#6a6a6a" stroke-width="0.80"/>
<polyline points="1572.5,264.4 1656.5,264.4" fill="none" stroke="#6a6a6a" stroke-width="0.80"/>
<polyline points="1572.5,269.6 1656.5,269.6" fill="none" stroke="#111" stroke-width="0.95"/>
<polyline points="1572.5,274.8 1656.5,274.8" fill="none" stroke="#6a6a6a" stroke-width="0.80"/>
<polyline points="1572.5,280.0 1656.5,280.0" fill="none" stroke="#111" stroke-width="0.95"/>
<polyline points="1572.5,285.3 1656.5,285.3" fill="none" stroke="#6a6a6a" stroke-width="0.80"/>
<polyline points="1572.5,290.5 1656.5,290.5" fill="none" stroke="#6a6a6a" stroke-width="0.80"/>
<polyline points="1572.5,295.7 1656.5,295.7" fill="none" stroke="#111" stroke-width="0.95"/>
<polyline points="1572.5,300.9 1656.5,300.9" fill="none" stroke="#6a6a6a" stroke-width="0.80"/>
<polyline points="1572.5,306.1 1656.5,306.1" fill="none" stroke="#111" stroke-width="0.95"/>
<polyline points="1572.5,311.4 1656.5,311.4" fill="none" stroke="#6a6a6a" stroke-width="0.80"/>
<polyline points="1572.5,316.6 1656.5,316.6" fill="none" stroke="#6a6a6a" stroke-width="0.80"/>
<polyline points="1572.5,321.8 1656.5,321.8" fill="none" stroke="#111" stroke-width="0.95"/>
<polyline points="1572.5,327.0 1656.5,327.0" fill="none" stroke="#6a6a6a" stroke-width="0.80"/>
<polyline points="1572.5,332.2 1656.5,332.2" fill="none" stroke="#111" stroke-width="0.95"/>
<polyline points="1572.5,337.5 1656.5,337.5" fill="none" stroke="#6a6a6a" stroke-width="0.80"/>
<polyline points="1572.5,342.7 1656.5,342.7" fill="none" stroke="#6a6a6a" stroke-width="0.80"/>
<polyline points="1572.5,347.9 1656.5,347.9" fill="none" stroke="#111" stroke-width="0.95"/>
<polyline points="1572.5,353.1 1656.5,353.1" fill="none" stroke="#6a6a6a" stroke-width="0.80"/>
<polyline points="1572.5,358.3 1656.5,358.3" fill="none" stroke="#111" stroke-width="0.95"/>
<polyline points="1572.5,363.6 1656.5,363.6" fill="none" stroke="#6a6a6a" stroke-width="0.80"/>
<polyline points="1572.5,368.8 1656.5,368.8" fill="none" stroke="#6a6a6a" stroke-width="0.80"/>
<polyline points="1572.5,374.0 1656.5,374.0" fill="none" stroke="#111" stroke-width="0.95"/>
<polyline points="1572.5,379.2 1656.5,379.2" fill="none" stroke="#6a6a6a" stroke-width="0.80"/>
<polyline points="1572.5,384.4 1656.5,384.4" fill="none" stroke="#111" stroke-width="0.95"/>
<polyline points="1574.0,86.0 1574.0,386.0" fill="none" stroke="#777" stroke-width="0.90"/>
<polyline points="1578.5,86.0 1578.5,386.0" fill="none" stroke="#777" stroke-width="0.90"/>
<polyline points="1585.5,86.0 1585.5,386.0" fill="none" stroke="#777" stroke-width="0.90"/>
<polyline points="1625.1,86.0 1625.1,386.0" fill="none" stroke="#777" stroke-width="0.90"/>
<polyline points="1596.0,86.0 1596.0,386.0" fill="none" stroke="#a0a0a0" stroke-width="2.20"/>
<polyline points="1572.6,86.0 1572.6,386.0" fill="none" stroke="#111" stroke-width="0.95"/>
<polyline points="1575.6,86.0 1575.6,386.0" fill="none" stroke="#111" stroke-width="0.95"/>
<polyline points="1581.0,86.0 1581.0,386.0" fill="none" stroke="#111" stroke-width="0.95"/>
<polyline points="1582.8,86.0 1582.8,386.0" fill="none" stroke="#111" stroke-width="0.95"/>
<polyline points="1588.4,86.0 1588.4,386.0" fill="none" stroke="#111" stroke-width="0.95"/>
<polyline points="1590.2,86.0 1590.2,386.0" fill="none" stroke="#111" stroke-width="0.95"/>
<polyline points="1604.7,86.0 1604.7,386.0" fill="none" stroke="#111" stroke-width="0.95"/>
<polyline points="1606.5,86.0 1606.5,386.0" fill="none" stroke="#111" stroke-width="0.95"/>
<polyline points="1633.3,86.0 1633.3,386.0" fill="none" stroke="#111" stroke-width="0.95"/>
<polyline points="1641.2,86.0 1641.2,386.0" fill="none" stroke="#111" stroke-width="0.95"/>
<polyline points="1649.4,86.0 1649.4,386.0" fill="none" stroke="#111" stroke-width="0.95"/>
<polyline points="1656.0,86.0 1656.0,386.0" fill="none" stroke="#111" stroke-width="0.95"/>
<rect x="1572.50" y="75.80" width="84.00" height="10.50" fill="#000"/>
<rect x="1607.30" y="86.30" width="9.80" height="306.50" fill="#000"/>
<path d="M1617 160.0 L1656.5 160.0 L1656.5 165.0 Q1630 168.0 1618.5 176.0 L1617 178.0 Z" fill="#000"/>
<path d="M1607.5 176.4 L1607.5 178.4 L1602.0 178.4 L1602.0 180.9 L1596.0 180.9 L1596.0 183.9 L1589.0 183.9 L1589.0 186.9 L1582.0 186.9 L1582.0 190.4 L1575.0 190.4 L1573.8 190.4 L1573.8 209.0 Q1585 217.6 1607.5 221.9 Z" fill="#000"/>
<path d="M1617 224.0 L1656.5 224.0 L1656.5 229.0 Q1630 232.0 1618.5 242.0 L1617 244.0 Z" fill="#000"/>
<path d="M1607.5 240.2 L1607.5 242.2 L1602.0 242.2 L1602.0 244.8 L1596.0 244.8 L1596.0 247.8 L1589.0 247.8 L1589.0 250.8 L1582.0 250.8 L1582.0 254.2 L1575.0 254.2 L1573.8 254.2 L1573.8 272.6 Q1585 281.1 1607.5 285.4 Z" fill="#000"/>
<path d="M1617 286.0 L1656.5 286.0 L1656.5 291.0 Q1630 294.0 1618.5 304.0 L1617 306.0 Z" fill="#000"/>
<path d="M1607.5 300.5 L1607.5 302.5 L1602.0 302.5 L1602.0 305.0 L1596.0 305.0 L1596.0 308.0 L1589.0 308.0 L1589.0 311.0 L1582.0 311.0 L1582.0 314.5 L1575.0 314.5 L1573.8 314.5 L1573.8 329.1 Q1585 336.7 1607.5 340.5 Z" fill="#000"/>
<rect x="1617.00" y="339.60" width="39.20" height="53.20" fill="#000"/>
<rect x="1651.80" y="329.40" width="4.00" height="19.00" fill="#fff"/>
<path d="M1607.5 344 L1602 346 L1602 349 L1596 349 L1596 352 L1589 352 L1589 356 L1583 356 L1583 360 L1581 360 L1581 386.3 L1600.8 392.8 L1617 392.8 L1617 344 Z" fill="#000"/>
<rect x="1572.50" y="75.80" width="84.00" height="1.00" fill="#000"/>
<polyline points="1572.5,86.0 1572.5,384.8 1581.0,386.3" fill="none" stroke="#222" stroke-width="1.00"/>
<polyline points="1656.5,141.4 1617.8,152.6" fill="none" stroke="#111" stroke-width="0.80"/>
<polyline points="1606.0,157.2 1572.5,175.6" fill="none" stroke="#111" stroke-width="0.80"/>
<polyline points="1656.5,206.0 1617.8,217.0" fill="none" stroke="#111" stroke-width="0.80"/>
<polyline points="1606.0,221.0 1572.5,240.0" fill="none" stroke="#111" stroke-width="0.80"/>
<polyline points="1656.5,266.0 1617.8,277.0" fill="none" stroke="#111" stroke-width="0.80"/>
<polyline points="1606.0,282.0 1572.5,300.0" fill="none" stroke="#111" stroke-width="0.80"/>
<polyline points="1656.5,320.0 1617.8,330.0" fill="none" stroke="#111" stroke-width="0.80"/>
<polyline points="1470.2,384.5 1572.3,384.5" fill="none" stroke="#8c8c8c" stroke-width="1.20"/></g>
<polyline points="264.5,399.8 542.0,399.8" fill="none" stroke="#a3a3a3" stroke-width="1.20"/>
<polyline points="1088.5,400.3 1367.0,400.3" fill="none" stroke="#a3a3a3" stroke-width="1.20"/>
<polyline points="840.8,379.2 840.8,231.9 865.6,230.4 865.6,381.5 868.5,386.0 869.2,392.4" fill="none" stroke="#8e8e8e" stroke-width="1.10"/>
<polyline points="840.8,379.2 843.6,379.2 846.6,384.0 848.0,387.0 866.5,387.0 868.5,390.0" fill="none" stroke="#9a9a9a" stroke-width="1.00"/>
<path d="M708 375.6 C740 376.5 760 376.2 790 377.5 S830 378.5 843.6 379.2" fill="none" stroke="#9a9a9a" stroke-width="1.0"/>
<path d="M708 379.4 C735 380.5 760 381.8 790 382.6 S830 383.6 848 387" fill="none" stroke="#b0b0b0" stroke-width="1.0"/>
<polyline points="707.3,392.4 869.2,392.4" fill="none" stroke="#c2c2c2" stroke-width="1.00"/>
<g>
<line x1="46.0" y1="995.3" x2="239.4" y2="920.8" class="d"/>
<line x1="239.4" y1="920.8" x2="363.1" y2="977.7" class="d"/>
<line x1="46.0" y1="949.9" x2="239.4" y2="875.4" class="d"/>
<line x1="239.4" y1="875.4" x2="363.1" y2="932.3" class="d"/>
<line x1="46.0" y1="949.9" x2="169.7" y2="1006.8" class="d"/>
<line x1="169.7" y1="1006.8" x2="363.1" y2="932.3" class="d"/>
<line x1="46.0" y1="904.5" x2="239.4" y2="830.0" class="d"/>
<line x1="239.4" y1="830.0" x2="363.1" y2="886.9" class="d"/>
<line x1="46.0" y1="904.5" x2="169.7" y2="961.4" class="d"/>
<line x1="169.7" y1="961.4" x2="363.1" y2="886.9" class="d"/>
<line x1="46.0" y1="859.1" x2="239.4" y2="784.6" class="d"/>
<line x1="239.4" y1="784.6" x2="363.1" y2="841.5" class="d"/>
<line x1="46.0" y1="859.1" x2="169.7" y2="916.0" class="d"/>
<line x1="239.4" y1="920.8" x2="239.4" y2="784.6" class="d"/>
<line x1="239.4" y1="784.6" x2="294.9" y2="734.4" class="d"/>
<line x1="46.0" y1="995.3" x2="169.7" y2="1052.2" class="s"/>
<line x1="169.7" y1="1052.2" x2="363.1" y2="977.7" class="s"/>
<line x1="46.0" y1="995.3" x2="46.0" y2="859.1" class="s"/>
<line x1="169.7" y1="1052.2" x2="169.7" y2="916.0" class="s"/>
<line x1="363.1" y1="977.7" x2="363.1" y2="841.5" class="s"/>
<line x1="46.0" y1="859.1" x2="101.5" y2="808.9" class="s"/>
<line x1="101.5" y1="808.9" x2="169.7" y2="916.0" class="s"/>
<line x1="169.7" y1="916.0" x2="363.1" y2="841.5" class="s"/>
<line x1="101.5" y1="808.9" x2="294.9" y2="734.4" class="s"/>
<line x1="294.9" y1="734.4" x2="363.1" y2="841.5" class="s"/>
</g>
<g>
<polygon points="563.0,949.9 756.4,875.4 880.1,932.3 686.7,1006.8" fill="#e6e8e4"/>
<polygon points="563.0,995.3 563.0,949.9 686.7,1006.8 686.7,1052.2" fill="#d6d8d3"/>
<polygon points="686.7,1052.2 686.7,1006.8 880.1,932.3 880.1,977.7" fill="#caccc5"/>
<line x1="563.0" y1="995.3" x2="756.4" y2="920.8" class="d"/>
<line x1="756.4" y1="920.8" x2="880.1" y2="977.7" class="d"/>
<line x1="563.0" y1="949.9" x2="756.4" y2="875.4" class="d"/>
<line x1="756.4" y1="875.4" x2="880.1" y2="932.3" class="d"/>
<line x1="563.0" y1="949.9" x2="686.7" y2="1006.8" class="d"/>
<line x1="686.7" y1="1006.8" x2="880.1" y2="932.3" class="d"/>
<line x1="563.0" y1="904.5" x2="756.4" y2="830.0" class="d"/>
<line x1="756.4" y1="830.0" x2="880.1" y2="886.9" class="d"/>
<line x1="563.0" y1="904.5" x2="686.7" y2="961.4" class="d"/>
<line x1="686.7" y1="961.4" x2="880.1" y2="886.9" class="d"/>
<line x1="563.0" y1="859.1" x2="756.4" y2="784.6" class="d"/>
<line x1="756.4" y1="784.6" x2="880.1" y2="841.5" class="d"/>
<line x1="563.0" y1="859.1" x2="686.7" y2="916.0" class="d"/>
<line x1="756.4" y1="920.8" x2="756.4" y2="784.6" class="d"/>
<line x1="756.4" y1="784.6" x2="811.9" y2="734.4" class="d"/>
<line x1="563.0" y1="995.3" x2="686.7" y2="1052.2" class="s"/>
<line x1="686.7" y1="1052.2" x2="880.1" y2="977.7" class="s"/>
<line x1="563.0" y1="995.3" x2="563.0" y2="859.1" class="s"/>
<line x1="686.7" y1="1052.2" x2="686.7" y2="916.0" class="s"/>
<line x1="880.1" y1="977.7" x2="880.1" y2="841.5" class="s"/>
<line x1="563.0" y1="859.1" x2="618.5" y2="808.9" class="s"/>
<line x1="618.5" y1="808.9" x2="686.7" y2="916.0" class="s"/>
<line x1="686.7" y1="916.0" x2="880.1" y2="841.5" class="s"/>
<line x1="618.5" y1="808.9" x2="811.9" y2="734.4" class="s"/>
<line x1="811.9" y1="734.4" x2="880.1" y2="841.5" class="s"/>
</g>
<g>
<polygon points="1080.0,995.3 1080.0,949.9 1203.7,1006.8 1203.7,1052.2" fill="#f8f8f7"/>
<polygon points="1203.7,1052.2 1203.7,1006.8 1397.1,932.3 1397.1,977.7" fill="#f8f8f7"/>
<polygon points="1080.0,859.1 1273.4,784.6 1397.1,841.5 1203.7,916.0" fill="#e6e8e4"/>
<polygon points="1080.0,949.9 1080.0,859.1 1203.7,916.0 1203.7,1006.8" fill="#d6d8d3"/>
<polygon points="1203.7,1006.8 1203.7,916.0 1397.1,841.5 1397.1,932.3" fill="#caccc5"/>
<line x1="1080.0" y1="995.3" x2="1273.4" y2="920.8" class="d"/>
<line x1="1273.4" y1="920.8" x2="1397.1" y2="977.7" class="d"/>
<line x1="1080.0" y1="949.9" x2="1273.4" y2="875.4" class="d"/>
<line x1="1273.4" y1="875.4" x2="1397.1" y2="932.3" class="d"/>
<line x1="1080.0" y1="949.9" x2="1203.7" y2="1006.8" class="d"/>
<line x1="1203.7" y1="1006.8" x2="1397.1" y2="932.3" class="d"/>
<line x1="1080.0" y1="904.5" x2="1273.4" y2="830.0" class="d"/>
<line x1="1273.4" y1="830.0" x2="1397.1" y2="886.9" class="d"/>
<line x1="1080.0" y1="904.5" x2="1203.7" y2="961.4" class="d"/>
<line x1="1203.7" y1="961.4" x2="1397.1" y2="886.9" class="d"/>
<line x1="1080.0" y1="859.1" x2="1273.4" y2="784.6" class="d"/>
<line x1="1273.4" y1="784.6" x2="1397.1" y2="841.5" class="d"/>
<line x1="1080.0" y1="859.1" x2="1203.7" y2="916.0" class="d"/>
<line x1="1273.4" y1="920.8" x2="1273.4" y2="784.6" class="d"/>
<line x1="1273.4" y1="784.6" x2="1328.9" y2="734.4" class="d"/>
<line x1="1080.0" y1="995.3" x2="1203.7" y2="1052.2" class="s"/>
<line x1="1203.7" y1="1052.2" x2="1397.1" y2="977.7" class="s"/>
<line x1="1080.0" y1="995.3" x2="1080.0" y2="859.1" class="s"/>
<line x1="1203.7" y1="1052.2" x2="1203.7" y2="916.0" class="s"/>
<line x1="1397.1" y1="977.7" x2="1397.1" y2="841.5" class="s"/>
<line x1="1080.0" y1="859.1" x2="1135.5" y2="808.9" class="s"/>
<line x1="1135.5" y1="808.9" x2="1203.7" y2="916.0" class="s"/>
<line x1="1203.7" y1="916.0" x2="1397.1" y2="841.5" class="s"/>
<line x1="1135.5" y1="808.9" x2="1328.9" y2="734.4" class="s"/>
<line x1="1328.9" y1="734.4" x2="1397.1" y2="841.5" class="s"/>
</g>
<g>
<polygon points="1597.0,859.1 1597.0,729.0 1649.5,675.6 1720.7,815.3 1720.7,916.0" fill="#e5e6e3"/>
<polygon points="1720.7,916.0 1914.1,841.5 1914.1,740.8 1720.7,815.3" fill="#cfd0cc"/>
<polygon points="1649.5,675.6 1842.9,601.1 1914.1,740.8 1720.7,815.3" fill="#eeefed"/>
<polygon points="1711.9,717.3 1740.5,729.7 1740.5,807.7 1755.0,802.1" fill="#f3f3f2"/>
<polygon points="1740.5,729.7 1794.4,709.2 1794.4,786.9 1740.5,807.7" fill="#cbccc8"/>
<polygon points="1711.9,717.3 1765.6,696.6 1794.4,709.2 1740.5,729.7" fill="#f1f1f0"/>
<polygon points="1778.2,651.9 1814.3,667.7 1814.3,779.2 1837.8,770.2" fill="#f3f3f2"/>
<polygon points="1814.3,667.7 1850.4,655.2 1850.4,765.3 1814.3,779.2" fill="#cbccc8"/>
<polygon points="1778.2,651.9 1813.8,637.7 1850.4,655.2 1814.3,667.7" fill="#f1f1f0"/>
<polygon points="1850.4,655.2 1851.0,706.6 1873.4,754.7 1850.4,765.3" fill="#e9eae8"/>
<line x1="1720.7" y1="916.0" x2="1720.7" y2="815.3" class="s"/>
<line x1="1649.5" y1="675.6" x2="1720.7" y2="815.3" class="s"/>
<line x1="1720.7" y1="815.3" x2="1914.1" y2="740.8" class="s"/>
<line x1="1794.4" y1="709.2" x2="1794.4" y2="786.9" class="s"/>
<line x1="1711.9" y1="717.3" x2="1755.0" y2="802.1" class="s"/>
<line x1="1794.4" y1="753.1" x2="1808.5" y2="781.5" class="s"/>
<line x1="1850.4" y1="655.2" x2="1850.4" y2="765.3" class="s"/>
<line x1="1778.2" y1="651.9" x2="1837.8" y2="770.2" class="s"/>
<line x1="1851.0" y1="706.6" x2="1873.4" y2="754.7" class="s"/>
<line x1="1597.0" y1="793.6" x2="1720.7" y2="850.5" class="d"/>
<line x1="1720.7" y1="850.5" x2="1914.1" y2="776.0" class="d"/>
<polygon points="1597.0,859.1 1652.9,807.6 1846.3,733.1 1914.1,841.5 1720.7,916.0" fill="#dfdfaa" fill-opacity="0.47"/>
<line x1="1597.0" y1="995.3" x2="1790.4" y2="920.8" class="d"/>
<line x1="1597.0" y1="949.9" x2="1790.4" y2="875.4" class="d"/>
<line x1="1597.0" y1="904.5" x2="1790.4" y2="830.0" class="d"/>
<line x1="1597.0" y1="859.1" x2="1790.4" y2="784.6" class="d"/>
<line x1="1597.0" y1="793.6" x2="1790.4" y2="719.1" class="d"/>
<line x1="1597.0" y1="729.0" x2="1790.4" y2="654.5" class="d"/>
<line x1="1790.4" y1="920.8" x2="1914.1" y2="977.7" class="d"/>
<line x1="1790.4" y1="875.4" x2="1914.1" y2="932.3" class="d"/>
<line x1="1790.4" y1="830.0" x2="1914.1" y2="886.9" class="d"/>
<line x1="1790.4" y1="784.6" x2="1914.1" y2="841.5" class="d"/>
<line x1="1790.4" y1="719.1" x2="1914.1" y2="776.0" class="d"/>
<line x1="1597.0" y1="949.9" x2="1720.7" y2="1006.8" class="d"/>
<line x1="1720.7" y1="1006.8" x2="1914.1" y2="932.3" class="d"/>
<line x1="1597.0" y1="904.5" x2="1720.7" y2="961.4" class="d"/>
<line x1="1720.7" y1="961.4" x2="1914.1" y2="886.9" class="d"/>
<line x1="1597.0" y1="859.1" x2="1720.7" y2="916.0" class="d"/>
<line x1="1720.7" y1="916.0" x2="1914.1" y2="841.5" class="d"/>
<line x1="1597.0" y1="729.0" x2="1720.7" y2="785.9" class="d"/>
<line x1="1790.4" y1="654.5" x2="1892.0" y2="700.0" class="d"/>
<line x1="1790.4" y1="920.8" x2="1790.4" y2="654.5" class="d"/>
<line x1="1790.4" y1="654.5" x2="1842.9" y2="601.1" class="d"/>
<line x1="1597.0" y1="859.1" x2="1652.9" y2="807.6" class="d"/>
<line x1="1652.9" y1="807.6" x2="1720.7" y2="916.0" class="d"/>
<line x1="1652.9" y1="807.6" x2="1846.3" y2="733.1" class="d"/>
<line x1="1846.3" y1="733.1" x2="1914.1" y2="841.5" class="d"/>
<line x1="1790.4" y1="784.6" x2="1846.3" y2="733.1" class="d"/>
<line x1="1597.0" y1="995.3" x2="1720.7" y2="1052.2" class="s"/>
<line x1="1720.7" y1="1052.2" x2="1914.1" y2="977.7" class="s"/>
<line x1="1597.0" y1="995.3" x2="1597.0" y2="729.0" class="s"/>
<line x1="1720.7" y1="1052.2" x2="1720.7" y2="916.0" class="s"/>
<line x1="1914.1" y1="977.7" x2="1914.1" y2="740.8" class="s"/>
<line x1="1597.0" y1="729.0" x2="1649.5" y2="675.6" class="s"/>
<line x1="1649.5" y1="675.6" x2="1706.7" y2="787.7" class="s"/>
<line x1="1649.5" y1="675.6" x2="1842.9" y2="601.1" class="s"/>
<line x1="1842.9" y1="601.1" x2="1914.1" y2="740.8" class="s"/>
<line x1="1872.8" y1="756.1" x2="1914.1" y2="740.8" class="s"/>
<line x1="1711.9" y1="717.3" x2="1765.6" y2="696.6" class="s"/>
<line x1="1765.6" y1="696.6" x2="1794.4" y2="709.2" class="s"/>
<line x1="1794.4" y1="709.2" x2="1740.5" y2="729.7" class="s"/>
<line x1="1740.5" y1="729.7" x2="1711.9" y2="717.3" class="s"/>
<line x1="1740.5" y1="729.7" x2="1740.5" y2="773.8" class="s"/>
<line x1="1794.4" y1="709.2" x2="1794.4" y2="753.1" class="s"/>
<line x1="1711.9" y1="717.3" x2="1733.6" y2="760.5" class="s"/>
<line x1="1778.2" y1="651.9" x2="1813.8" y2="637.7" class="s"/>
<line x1="1813.8" y1="637.7" x2="1850.4" y2="655.2" class="s"/>
<line x1="1850.4" y1="655.2" x2="1814.3" y2="667.7" class="s"/>
<line x1="1814.3" y1="667.7" x2="1778.2" y2="651.9" class="s"/>
<line x1="1814.3" y1="667.7" x2="1814.3" y2="725.2" class="s"/>
<line x1="1850.4" y1="655.2" x2="1850.4" y2="739.4" class="s"/>
<line x1="1778.2" y1="651.9" x2="1824.7" y2="741.6" class="s"/>
<line x1="1851.0" y1="706.6" x2="1873.4" y2="754.7" class="s"/>
</g>
</svg>
<div class="t" style="left:14px;top:491px">Existing building</div>
<div class="t" style="left:877px;top:489px">Demolition</div>
<div class="t" style="left:1683px;top:490px">Extension</div>
<div class="t" style="left:42px;top:1109px">Existing building</div>
<div class="t" style="left:528px;top:1111px;line-height:45.9px">1st construction phase<br>renovation of ground floor<br>Office mia2</div>
<div class="t" style="left:1075px;top:1109px">2nd construction phase<br>renovation of existing<br>upper floors<br>Apartments</div>
<div class="t" style="left:1583px;top:1109px">3rd Construction phase<br>Roof demolition<br>Construction of stairs<br>and extension of the<br>building</div>

</body></html>
